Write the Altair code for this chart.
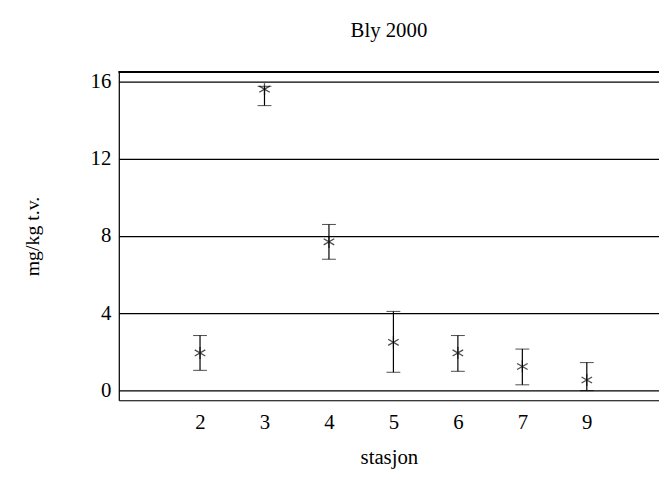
import altair as alt
import pandas as pd

stasjon = ["2", "3", "4", "5", "6", "7", "9"]
verdi = [1.95, 15.6, 7.7, 2.5, 1.95, 1.25, 0.55]
lav = [1.05, 14.75, 6.8, 0.95, 1.0, 0.3, 0.0]
hoy = [2.85, 15.75, 8.6, 4.1, 2.85, 2.15, 1.45]

df = pd.DataFrame({"stasjon": stasjon, "idx": list(range(len(stasjon))),
                   "verdi": verdi, "lav": lav, "hoy": hoy})
W, H = 546, 332
F = "Liberation Serif"

labexpr = "[" + ",".join("'%s'" % s for s in stasjon) + "][datum.value]"
xs = alt.X("idx:Q", title="stasjon",
           scale=alt.Scale(domain=[-1.26, 7.12], nice=False, zero=False),
           axis=alt.Axis(values=list(range(len(stasjon))), labelExpr=labexpr, grid=False,
                         ticks=False, domainColor="black", labelFont=F, labelFontSize=21,
                         titleFont=F, titleFontSize=21, titleFontWeight="normal", labelColor="black",
                         titleColor="black", labelPadding=12, titlePadding=14, domainWidth=1.2))
ysc = alt.Scale(domain=[-0.5, 16.5], nice=False, zero=False)
ys = alt.Y("verdi:Q", title="mg/kg t.v.", scale=ysc,
           axis=alt.Axis(values=[0, 4, 8, 12, 16], ticks=False, grid=True, gridColor="black",
                         gridWidth=1.2, domainColor="black", domainWidth=1.2, labelFont=F, labelFontSize=21,
                         labelColor="black", titleFont=F, titleFontSize=20, titleFontWeight="normal",
                         titleColor="black", labelPadding=8, titlePadding=48))

base = alt.Chart(df)
err = base.mark_errorbar(ticks=alt.MarkConfig(size=14, color="black", strokeWidth=1.2), color="black",
                         rule=alt.MarkConfig(strokeWidth=1.2)).encode(
    x=xs, y=alt.Y("lav:Q", scale=ysc, title="mg/kg t.v."), y2="hoy:Q")
pts = base.mark_point(shape="M0,-1L0,1M-0.87,-0.5L0.87,0.5M-0.87,0.5L0.87,-0.5",
                      size=150, color="black", strokeWidth=1.3, filled=False).encode(x=xs, y=ys)
top = alt.Chart(df).mark_rule(color="black", strokeWidth=1.2).encode(
    x=alt.value(0), x2=alt.value(W), y=alt.value(0))

chart = alt.layer(top, err, pts).properties(
    width=W, height=H,
    title=alt.Title("Bly 2000", font=F, fontSize=21, fontWeight="normal", color="black", offset=30, anchor="middle"),
    padding={"left": 112, "top": 62, "right": 0, "bottom": 70},
    autosize=alt.AutoSizeParams(type="none"),
).configure_view(stroke=None).configure(background="white")

chart.save("out.html", embed_options={"renderer": "svg", "actions": False})
